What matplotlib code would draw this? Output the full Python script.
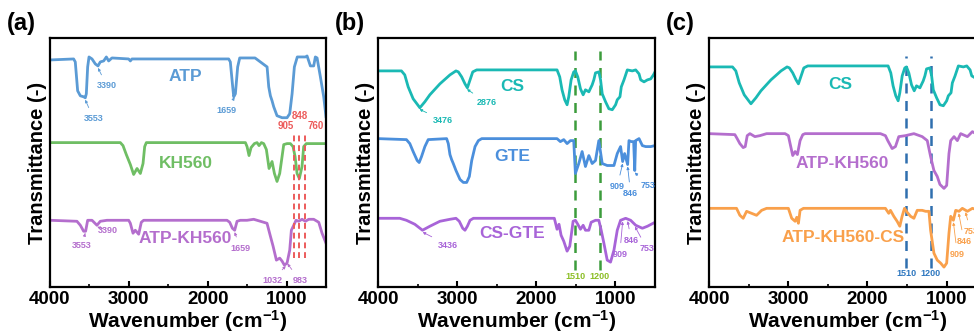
import numpy as np
import matplotlib
matplotlib.use('Agg')
import matplotlib.pyplot as plt
from matplotlib.ticker import MultipleLocator

plt.rcParams['font.family'] = ['Liberation Sans', 'DejaVu Sans']
plt.rcParams['font.weight'] = 'bold'
plt.rcParams['mathtext.fontset'] = 'custom'
plt.rcParams['mathtext.rm'] = 'Liberation Sans:bold'
plt.rcParams['mathtext.bf'] = 'Liberation Sans:bold'
plt.rcParams['mathtext.default'] = 'bf'

# spectra: wavenumber (cm-1) and relative transmittance (baseline ~100)
atp_wn = [3996, 3700, 3679, 3649, 3615, 3573, 3552, 3539, 3522, 3505, 3467, 3425, 3391, 3362, 3319, 3285,
          3256, 3214, 3002, 2981, 2960, 1734, 1713, 1683, 1670, 1649, 1620, 1594, 1400, 1247, 1226, 1205,
          1184, 1163, 1121, 1057, 994, 960, 930, 901, 864, 825, 761, 740, 698, 656, 635, 613, 571, 529, 500]
atp_t = [99, 100, 97, 68, 63, 62, 61, 65, 92, 102, 100, 95, 93, 97, 98, 102,
         98, 101, 100, 98, 100, 100, 97, 72, 62, 65, 92, 101, 101, 92, 72, 63,
         58, 52, 43, 41, 41, 45, 65, 92, 102, 102, 102, 103, 93, 93, 102, 101, 82, 62, 42]

kh560_wn = [3996, 3108, 3074, 3032, 2981, 2939, 2896, 2854, 2820, 2799, 2778, 1522, 1501, 1476, 1450, 1408,
            1374, 1349, 1319, 1290, 1256, 1222, 1184, 1154, 1121, 1087, 1057, 1036, 994, 952, 918, 892,
            867, 838, 804, 783, 749, 500]
kh560_t = [100, 100, 97, 88, 78, 68, 74, 69, 79, 96, 100, 100, 96, 87, 95, 99,
           100, 97, 100, 99, 93, 74, 81, 69, 61, 69, 86, 98, 99, 99, 96, 86,
           69, 64, 76, 96, 99, 99]

atpkh_wn = [3996, 3658, 3615, 3573, 3548, 3522, 3467, 3404, 3362, 3277, 3002, 2981, 2947, 2918, 2875, 2842,
            2812, 1755, 1721, 1687, 1658, 1628, 1586, 1501, 1417, 1332, 1248, 1205, 1171, 1129, 1087, 1057,
            1028, 994, 960, 939, 909, 880, 846, 804, 761, 719, 656, 592, 550, 500]
atpkh_t = [99, 98, 94, 88, 88, 99, 99, 94, 98, 99, 99, 96, 86, 89, 85, 97,
           99, 99, 97, 91, 89, 98, 99, 99, 100, 98, 96, 83, 73, 59, 61, 58,
           54, 56, 69, 89, 94, 99, 98, 100, 98, 100, 100, 97, 86, 76]

cs_wn = [4000, 3704, 3662, 3619, 3556, 3471, 3408, 3345, 3218, 3091, 3015, 2985, 2943, 2901, 2871, 2837,
         2803, 2753, 1738, 1704, 1675, 1641, 1611, 1590, 1560, 1527, 1506, 1476, 1442, 1408, 1379, 1336,
         1294, 1273, 1252, 1210, 1188, 1167, 1125, 1083, 1040, 998, 977, 943, 926, 892, 850, 787,
         744, 702, 681, 639, 596, 554, 520, 500]
cs_t = [100, 100, 96, 84, 72, 63, 69, 76, 87, 96, 100, 99, 94, 87, 83, 91,
        99, 101, 101, 94, 81, 71, 66, 74, 91, 99, 100, 94, 82, 76, 81, 79,
        86, 91, 98, 99, 91, 77, 69, 62, 61, 66, 71, 74, 84, 91, 101, 100,
        101, 97, 91, 89, 91, 92, 96, 99]

gte_wn = [4000, 3641, 3598, 3556, 3505, 3480, 3450, 3408, 3366, 3133, 3112, 3091, 3070, 3049, 3015, 2964,
          2922, 2880, 2846, 2816, 2774, 2732, 2689, 1738, 1696, 1653, 1611, 1569, 1527, 1506, 1463, 1421,
          1379, 1336, 1294, 1252, 1210, 1167, 1104, 1019, 977, 935, 909, 884, 846, 829, 799, 770,
          756, 745, 702, 660, 618, 554, 500]
gte_t = [100, 99, 95, 87, 78, 76, 82, 92, 99, 100, 95, 84, 79, 75, 68, 59,
         56, 56, 62, 78, 92, 98, 100, 100, 97, 99, 95, 98, 98, 65, 75, 87,
         72, 83, 75, 78, 98, 75, 73, 73, 85, 92, 77, 85, 74, 98, 97, 97,
         68, 98, 100, 93, 92, 92, 93]

csgte_wn = [4000, 3725, 3641, 3535, 3438, 3345, 3218, 3091, 3015, 2973, 2930, 2901, 2871, 2837, 2795, 1772,
            1738, 1713, 1687, 1653, 1611, 1577, 1535, 1506, 1476, 1442, 1408, 1379, 1336, 1307, 1252, 1210,
            1180, 1146, 1104, 1062, 1019, 977, 935, 871, 808, 744, 660, 596, 500]
csgte_t = [100, 100, 98, 94, 88, 92, 97, 99, 100, 97, 90, 88, 92, 98, 100, 100,
           89, 94, 83, 77, 67, 72, 97, 98, 94, 89, 93, 88, 88, 96, 98, 98,
           88, 75, 58, 56, 68, 88, 98, 100, 98, 93, 90, 92, 96]

atpkh2_wn = [4000, 3674, 3645, 3611, 3569, 3543, 3518, 3484, 3421, 3357, 3273, 3040, 2998, 2968, 2943, 2913,
             2884, 2850, 2816, 2787, 1835, 1772, 1742, 1687, 1645, 1603, 1518, 1412, 1307, 1243, 1201, 1159,
             1117, 1083, 1032, 998, 969, 947, 905, 863, 821, 736, 673, 630, 550, 500]
atpkh2_t = [100, 99, 95, 90, 86, 87, 98, 100, 97, 98, 100, 100, 98, 87, 78, 82,
            79, 93, 99, 100, 100, 98, 93, 85, 87, 97, 98, 100, 97, 93, 77, 63,
            57, 49, 45, 48, 80, 93, 97, 93, 100, 97, 102, 100, 86, 78]

atpkhcs_wn = [4000, 3653, 3611, 3569, 3526, 3463, 3400, 3336, 3273, 2998, 2956, 2913, 2892, 2871, 2850, 2808,
              1772, 1730, 1708, 1666, 1624, 1590, 1561, 1531, 1497, 1454, 1412, 1370, 1307, 1264, 1222, 1201,
              1159, 1117, 1074, 1032, 998, 969, 947, 913, 884, 842, 800, 736, 673, 630, 550, 500]
atpkhcs_t = [100, 100, 93, 90, 97, 95, 93, 98, 100, 100, 90, 87, 91, 85, 98, 100,
             100, 95, 98, 92, 87, 82, 92, 100, 96, 92, 90, 98, 98, 97, 97, 78,
             55, 48, 45, 41, 45, 75, 92, 88, 98, 97, 100, 97, 100, 99, 90, 85]

c_atp = '#5b9bd5'
c_kh = '#6fbe64'
c_atpkh = '#b46ecd'
c_cs = '#1ab9b4'
c_gte = '#4b8fdc'
c_csgte = '#a864d8'
c_or = '#f9a04b'

fig = plt.figure(figsize=(9.74, 3.36), dpi=100)
ax_a = fig.add_axes([0.0513, 0.1458, 0.2834, 0.741])
ax_b = fig.add_axes([0.3881, 0.1458, 0.2844, 0.741])
ax_c = fig.add_axes([0.7280, 0.1458, 0.2844, 0.741])


def cy(wn, t, off, p):
    # curve height at wavenumber p
    return off + np.interp(p, wn[::-1], t[::-1]) - 100


def draw(ax, wn, t, off, color):
    ax.plot(wn, np.array(t) - 100 + off, color=color, lw=2.0, solid_joinstyle='round')


def note(ax, s, xt, yt, wn, t, off, p, color, fs=6.5, gap=-2):
    ax.annotate(s, xy=(p, cy(wn, t, off, p) + gap), xytext=(xt, yt), ha='center', va='center',
                fontsize=fs, color=color, fontweight='bold',
                arrowprops=dict(arrowstyle='-|>', color=color, lw=0.6, mutation_scale=4,
                                shrinkA=3, shrinkB=0))


for ax, lab in [(ax_a, '(a)'), (ax_b, '(b)'), (ax_c, '(c)')]:
    ax.set_xlim(4000, 500)
    ax.set_ylim(0, 250)
    ax.set_yticks([])
    ax.xaxis.set_major_locator(MultipleLocator(1000))
    ax.xaxis.set_minor_locator(MultipleLocator(500))
    ax.tick_params(axis='x', which='major', direction='in', length=4, width=1.5, labelsize=13.5, pad=3)
    ax.tick_params(axis='x', which='minor', direction='in', length=2, width=1.2)
    for lbl in ax.get_xticklabels():
        lbl.set_fontweight('bold')
    for sp in ax.spines.values():
        sp.set_linewidth(1.6)
    ax.set_xlabel('Wavenumber (cm$^{-1}$)', fontsize=15, fontweight='bold', labelpad=0)
    ax.set_ylabel('Transmittance (-)', fontsize=14.5, fontweight='bold', labelpad=2)
    ax.text(-0.155, 1.06, lab, transform=ax.transAxes, fontsize=17, fontweight='bold', va='center')

# (a)
off_atp, off_kh, off_atpkh = 229, 145, 68
draw(ax_a, atp_wn, atp_t, off_atp, c_atp)
draw(ax_a, kh560_wn, kh560_t, off_kh, c_kh)
draw(ax_a, atpkh_wn, atpkh_t, off_atpkh, c_atpkh)
ax_a.text(2283, 211, 'ATP', color=c_atp, fontsize=12.5, fontweight='bold', ha='center', va='center')
ax_a.text(2283, 124, 'KH560', color=c_kh, fontsize=12.5, fontweight='bold', ha='center', va='center')
ax_a.text(2283, 49, 'ATP-KH560', color=c_atpkh, fontsize=12.5, fontweight='bold', ha='center', va='center')
note(ax_a, '3390', 3277, 202, atp_wn, atp_t, off_atp, 3391, c_atp)
note(ax_a, '3553', 3446, 169, atp_wn, atp_t, off_atp, 3553, c_atp)
note(ax_a, '1659', 1763, 177, atp_wn, atp_t, off_atp, 1659, c_atp)
note(ax_a, '3553', 3594, 42, atpkh_wn, atpkh_t, off_atpkh, 3553, c_atpkh)
note(ax_a, '3390', 3269, 57, atpkh_wn, atpkh_t, off_atpkh, 3400, c_atpkh)
note(ax_a, '1659', 1586, 39, atpkh_wn, atpkh_t, off_atpkh, 1659, c_atpkh)
note(ax_a, '1032', 1181, 7, atpkh_wn, atpkh_t, off_atpkh, 1010, c_atpkh)
note(ax_a, '983', 832, 7, atpkh_wn, atpkh_t, off_atpkh, 990, c_atpkh)
red = '#ec5b5b'
red_lines = [905, 848, 760]
ax_a.vlines(red_lines, 29, 154, colors=red, linestyles=(0, (3, 2)), lw=1.4)
ax_a.text(1015, 157, '905', color=red, fontsize=7, fontweight='bold', ha='center', va='bottom')
ax_a.text(825, 167, '848', color=red, fontsize=7, fontweight='bold', ha='center', va='bottom')
ax_a.text(635, 157, '760', color=red, fontsize=7, fontweight='bold', ha='center', va='bottom')

# (b)
off_cs, off_gte, off_csgte = 217, 149, 69
green = '#3c9c3c'
ax_b.vlines([1510, 1200], 17, 237, colors=green, linestyles=(0, (4, 3)), lw=1.8)
draw(ax_b, cs_wn, cs_t, off_cs, c_cs)
draw(ax_b, gte_wn, gte_t, off_gte, c_gte)
draw(ax_b, csgte_wn, csgte_t, off_csgte, c_csgte)
ax_b.text(2309, 201, 'CS', color=c_cs, fontsize=12.5, fontweight='bold', ha='center', va='center')
ax_b.text(2309, 131, 'GTE', color=c_gte, fontsize=12.5, fontweight='bold', ha='center', va='center')
ax_b.text(2309, 54, 'CS-GTE', color=c_csgte, fontsize=12.5, fontweight='bold', ha='center', va='center')
note(ax_b, '3476', 3176, 167, cs_wn, cs_t, off_cs, 3476, c_cs)
note(ax_b, '2876', 2626, 185, cs_wn, cs_t, off_cs, 2876, c_cs)
note(ax_b, '909', 977, 101, gte_wn, gte_t, off_gte, 909, c_gte)
note(ax_b, '846', 808, 94, gte_wn, gte_t, off_gte, 846, c_gte)
note(ax_b, '753', 588, 102, gte_wn, gte_t, off_gte, 756, c_gte)
note(ax_b, '3436', 3112, 42, csgte_wn, csgte_t, off_csgte, 3436, c_csgte)
note(ax_b, '909', 945, 33, csgte_wn, csgte_t, off_csgte, 909, c_csgte)
note(ax_b, '846', 800, 47, csgte_wn, csgte_t, off_csgte, 846, c_csgte)
note(ax_b, '753', 605, 39, csgte_wn, csgte_t, off_csgte, 753, c_csgte)
ax_b.text(1510, 11, '1510', color='#8cbf26', fontsize=6.5, fontweight='bold', ha='center', va='center')
ax_b.text(1200, 11, '1200', color='#8cbf26', fontsize=6.5, fontweight='bold', ha='center', va='center')

# (c)
off_cs2, off_atpkh2, off_or = 221, 154, 79
blue = '#2f6faf'
ax_c.vlines([1510, 1200], 19, 232, colors=blue, linestyles=(0, (4, 3)), lw=1.8)
draw(ax_c, cs_wn, cs_t, off_cs2, c_cs)
draw(ax_c, atpkh2_wn, atpkh2_t, off_atpkh2, c_atpkh)
draw(ax_c, atpkhcs_wn, atpkhcs_t, off_or, c_or)
ax_c.text(2343, 203, 'CS', color=c_cs, fontsize=12.5, fontweight='bold', ha='center', va='center')
ax_c.text(2321, 124, 'ATP-KH560', color=c_atpkh, fontsize=12.5, fontweight='bold', ha='center', va='center')
ax_c.text(2300, 50, 'ATP-KH560-CS', color=c_or, fontsize=12.5, fontweight='bold', ha='center', va='center')
note(ax_c, '909', 863, 33, atpkhcs_wn, atpkhcs_t, off_or, 913, c_or)
note(ax_c, '846', 778, 46, atpkhcs_wn, atpkhcs_t, off_or, 846, c_or)
note(ax_c, '753', 694, 56, atpkhcs_wn, atpkhcs_t, off_or, 760, c_or)
ax_c.text(1510, 14, '1510', color='#2f78c0', fontsize=6.5, fontweight='bold', ha='center', va='center')
ax_c.text(1200, 14, '1200', color='#2f78c0', fontsize=6.5, fontweight='bold', ha='center', va='center')

fig.savefig('out.png', dpi=100)
